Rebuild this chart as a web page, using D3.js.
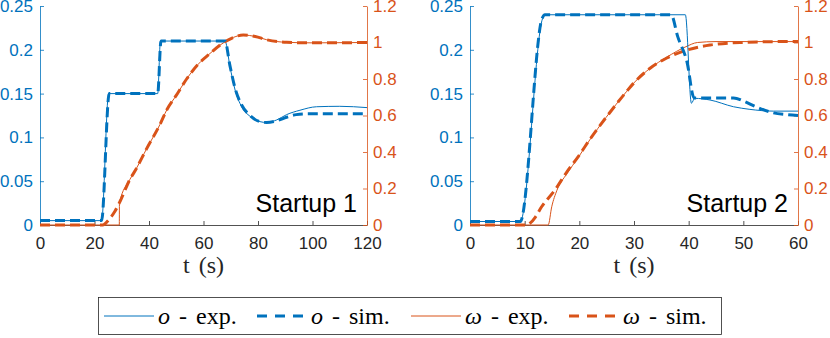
<!DOCTYPE html>
<html>
<head>
<meta charset="utf-8">
<script src="https://cdn.jsdelivr.net/npm/d3@7"></script>
<style>
body{margin:0;background:#fff}
text{font-family:"Liberation Sans",Arial,Helvetica,sans-serif}
.serif{font-family:"Liberation Serif","Times New Roman",serif}
</style>
</head>
<body>
<div id="chart"></div>
<script>
// Startup 1 : [t (s), value]
var oExp1 = [[0,0.005],[22.6,0.005],[25.2,0.15],[43.2,0.15],[44.2,0.21],[67.9,0.21],[69.7,0.181],[71.6,0.154],[74,0.135],[77.1,0.124],[80.7,0.118],[83.2,0.117],[86.9,0.12],[90.5,0.126],[95.4,0.131],[101.5,0.135],[110,0.1355],[120,0.134]]
var oSim1 = [[0,0.005],[22.6,0.005],[25.4,0.15],[43.2,0.15],[44.4,0.21],[67.9,0.21],[69.7,0.182],[71.6,0.156],[74,0.137],[77.1,0.125],[80.7,0.118],[83.2,0.117],[86.9,0.119],[90.5,0.123],[94,0.126],[98,0.127],[120,0.127]]
var wExp1 = [[0,0],[29.1,0],[29.15,0.12],[33,0.25],[35,0.3],[39.2,0.42],[44,0.55],[46.5,0.63],[50,0.71],[53.8,0.8],[58,0.88],[62.4,0.94],[66,0.985],[68,1.005],[71,1.028],[74.6,1.041],[79,1.033],[83.2,1.015],[87,1.005],[90.5,1.001],[100,0.998],[120,1.0]]
var wSim1 = [[0,0],[23,0],[25.3,0.03],[27.5,0.075],[29.4,0.13],[33,0.25],[35,0.3],[39.2,0.42],[44,0.55],[46.5,0.63],[50,0.71],[53.8,0.8],[58,0.88],[62.4,0.94],[66,0.985],[68,1.005],[71,1.028],[74.6,1.041],[79,1.033],[83.2,1.015],[87,1.005],[90.5,1.001],[100,0.998],[120,1.0]]

// Startup 2
var oExp2 = [[0,0.004],[9.2,0.004],[13.3,0.236],[13.8,0.24],[39.4,0.24],[40.5,0.139],[41.1,0.1446],[43.9,0.1427],[48.2,0.135],[51.2,0.132],[55.5,0.13],[60,0.13]]
var oSim2 = [[0,0.004],[9.2,0.004],[13.2,0.236],[13.7,0.24],[36.8,0.24],[38,0.215],[39.7,0.186],[41,0.145],[48.2,0.145],[50.2,0.141],[52.3,0.135],[55.5,0.128],[58,0.126],[60,0.125]]
var wExp2 = [[0,0],[14.3,0],[14.95,0.1],[15.9,0.19],[17.7,0.28],[19.8,0.37],[21.9,0.466],[24.9,0.59],[28.6,0.73],[29.9,0.776],[33,0.86],[36,0.92],[39.5,0.977],[41.6,1.0],[45,1.005],[60,1.005]]
var wSim2 = [[0,0],[10.5,0],[11,0.01],[12,0.045],[13.1,0.1],[15.5,0.19],[17.7,0.29],[19.8,0.375],[21.9,0.468],[24.9,0.59],[28.6,0.73],[29.9,0.776],[33,0.86],[36,0.915],[39.7,0.959],[43.9,0.986],[49.4,1.0],[57,1.005],[60,1.005]]

var tTicks1 = [0,20,40,60,80,100,120]
var tTicks2 = [0,10,20,30,40,50,60]
var oTicks = [0,0.05,0.1,0.15,0.2,0.25]
var wTicks = [0,0.2,0.4,0.6,0.8,1,1.2]
var panelTitles = ["Startup 1","Startup 2"]
var legendSymbols = ["o","o","\u03c9","\u03c9"]
var legendSuffix = [" - exp."," - sim."," - exp."," - sim."]

var blue = "#0072BD", orange = "#D95319", dark = "#262626"
var W = 830, H = 338, plotTop = 6, plotBottom = 225

var svg = d3.select("#chart").append("svg").attr("width",W).attr("height",H)

function drawPanel(p){
  var x = d3.scaleLinear().domain([0,p.tMax]).range([p.left,p.right])
  var yO = d3.scaleLinear().domain([0,0.25]).range([plotBottom,plotTop])
  var yW = d3.scaleLinear().domain([0,1.2]).range([plotBottom,plotTop])
  var g = svg.append("g")

  var ax = g.append("g").attr("transform","translate(0,"+plotBottom+")")
    .call(d3.axisBottom(x).tickValues(p.ticks).tickSize(-4).tickSizeOuter(0).tickPadding(12).tickFormat(d3.format("~g")))
  ax.selectAll("line,path").attr("stroke",dark).attr("stroke-width",0.8)
  ax.selectAll("text").attr("fill",dark).style("font-size","17px")

  var al = g.append("g").attr("transform","translate("+p.left+",0)")
    .call(d3.axisLeft(yO).tickValues(oTicks).tickSize(-4).tickSizeOuter(0).tickPadding(7).tickFormat(d3.format("~g")))
  al.selectAll("line,path").attr("stroke",blue).attr("stroke-width",0.8)
  al.selectAll("text").attr("fill",blue).style("font-size","17px")

  var ar = g.append("g").attr("transform","translate("+p.right+",0)")
    .call(d3.axisRight(yW).tickValues(wTicks).tickSize(-4).tickSizeOuter(0).tickPadding(6).tickFormat(d3.format("~g")))
  ar.selectAll("line,path").attr("stroke",orange).attr("stroke-width",0.8)
  ar.selectAll("text").attr("fill",orange).style("font-size","17px")

  var lineO = d3.line().x(d=>x(d[0])).y(d=>yO(d[1])).curve(d3.curveMonotoneX)
  var lineW = d3.line().x(d=>x(d[0])).y(d=>yW(d[1])).curve(d3.curveMonotoneX)

  g.append("path").datum(p.wExp).attr("d",lineW).attr("fill","none").attr("stroke",orange).attr("stroke-width",1)
  g.append("path").datum(p.oExp).attr("d",lineO).attr("fill","none").attr("stroke",blue).attr("stroke-width",1)
  g.append("path").datum(p.wSim).attr("d",lineW).attr("fill","none").attr("stroke",orange).attr("stroke-width",3).attr("stroke-dasharray","10,5")
  g.append("path").datum(p.oSim).attr("d",lineO).attr("fill","none").attr("stroke",blue).attr("stroke-width",3).attr("stroke-dasharray","10,5")

  g.append("text").attr("x",p.right-10).attr("y",212).attr("text-anchor","end")
    .style("font-size","25px").attr("fill","#000").text(p.title)

  g.append("text").attr("class","serif").attr("x",(p.left+p.right)/2).attr("y",273).attr("text-anchor","middle")
    .style("font-size","24px").attr("fill",dark).attr("word-spacing","3px").text("t (s)")
}

drawPanel({left:40,right:367,tMax:120,ticks:tTicks1,oExp:oExp1,oSim:oSim1,wExp:wExp1,wSim:wSim1,title:panelTitles[0]})
drawPanel({left:470,right:798,tMax:60,ticks:tTicks2,oExp:oExp2,oSim:oSim2,wExp:wExp2,wSim:wSim2,title:panelTitles[1]})

// legend
var leg = svg.append("g")
leg.append("rect").attr("x",98.5).attr("y",297.5).attr("width",623).attr("height",37)
  .attr("fill","#fff").attr("stroke",dark).attr("stroke-width",0.8)
var itemX = [104,257,411,569]
legendSymbols.forEach(function(s,i){
  var c = i<2 ? blue : orange
  var ln = leg.append("line").attr("x1",itemX[i]).attr("x2",itemX[i]+50).attr("y1",316).attr("y2",316).attr("stroke",c)
  if (i%2){ ln.attr("stroke-width",3).attr("stroke-dasharray","10,8") } else { ln.attr("stroke-width",1) }
  var t = leg.append("text").attr("class","serif").attr("x",itemX[i]+54).attr("y",324).style("font-size","24px")
    .attr("fill","#000").attr("word-spacing","3px")
  t.append("tspan").style("font-style","italic").text(s)
  t.append("tspan").attr("xml:space","preserve").text(legendSuffix[i])
})
</script>
</body>
</html>
